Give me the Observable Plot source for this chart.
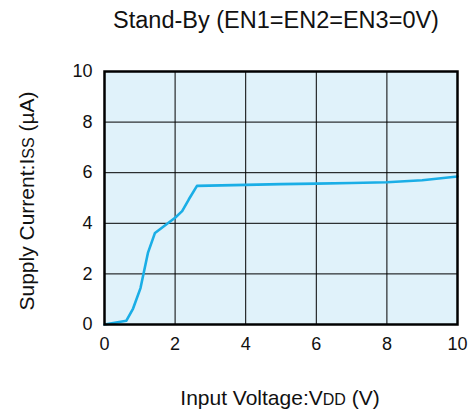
<!DOCTYPE html>
<html>
<head>
<meta charset="utf-8">
<script src="https://cdn.jsdelivr.net/npm/d3@7"></script>
<script src="https://cdn.jsdelivr.net/npm/@observablehq/plot@0.6"></script>
<style>
  body { margin: 0; background: #fff; }
  svg { font-family: "Liberation Sans", Arial, sans-serif; }
</style>
</head>
<body>
<div id="chart"></div>
<script>
// Stand-by supply current vs. input voltage
const voltage = [0, 0.62, 0.81, 1.02, 1.23, 1.43, 2.0, 2.2, 2.39, 2.62, 4.0, 5.0, 6.0, 7.0, 8.0, 9.0, 10.0];
const current = [0, 0.15, 0.63, 1.44, 2.83, 3.62, 4.22, 4.48, 4.95, 5.48, 5.52, 5.55, 5.57, 5.59, 5.62, 5.70, 5.85];
const xTicks = [0, 2, 4, 6, 8, 10];
const yTicks = [0, 2, 4, 6, 8, 10];

const data = voltage.map((v, i) => ({v, i: current[i]}));

const W = 468, H = 411;
const chart = Plot.plot({
  width: W,
  height: H,
  marginLeft: 104,
  marginRight: 11,
  marginTop: 71,
  marginBottom: 87,
  style: {fontFamily: "Liberation Sans, Arial, sans-serif", color: "#111"},
  x: {domain: [0, 10], ticks: xTicks, label: null, tickSize: 0, tickPadding: 13},
  y: {domain: [0, 10], ticks: yTicks, label: null, tickSize: 0, tickPadding: 12},
  marks: [
    Plot.frame({fill: "#e0f2fa", stroke: null}),
    Plot.gridX(xTicks, {stroke: "#000", strokeOpacity: 1, strokeWidth: 1}),
    Plot.gridY(yTicks, {stroke: "#000", strokeOpacity: 1, strokeWidth: 1}),
    Plot.line(data, {x: "v", y: "i", stroke: "#1aaee6", strokeWidth: 2.6, strokeLinejoin: "round"}),
    Plot.frame({stroke: "#000", strokeWidth: 2.5})
  ]
});

const svg = d3.select(chart);
svg.selectAll("g[aria-label='x-axis tick label'] text, g[aria-label='y-axis tick label'] text")
  .style("font-size", "18px")
  .attr("fill", "#111");

// Title
svg.append("text")
  .attr("x", 276).attr("y", 28)
  .attr("text-anchor", "middle")
  .style("font-size", "23.5px")
  .attr("fill", "#111")
  .text("Stand-By (EN1=EN2=EN3=0V)");

// X axis label with small-cap subscript
const xl = svg.append("text")
  .attr("x", 280).attr("y", 405)
  .attr("text-anchor", "middle")
  .style("font-size", "21px")
  .attr("fill", "#111");
xl.append("tspan").text("Input Voltage:V");
xl.append("tspan").style("font-size", "16px").text("DD");
xl.append("tspan").text(" (V)");

// Y axis label, rotated
const yl = svg.append("text")
  .attr("transform", "translate(34,201) rotate(-90)")
  .attr("text-anchor", "middle")
  .style("font-size", "21px")
  .attr("fill", "#111");
yl.append("tspan").text("Supply Current:I");
yl.append("tspan").style("font-size", "16px").text("SS");
yl.append("tspan").text(" (\u00b5A)");

document.getElementById("chart").appendChild(chart);
</script>
</body>
</html>
